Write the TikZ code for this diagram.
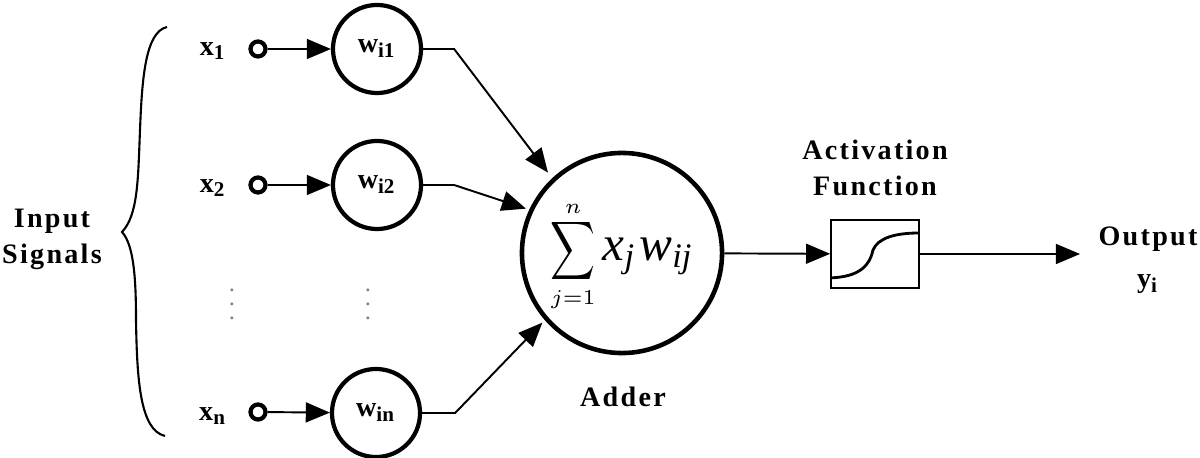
\documentclass[tikz,border=0pt]{standalone}
\usepackage{amssymb,amsfonts,amsmath}
\usepackage{fontspec}
\setmainfont{Liberation Serif}
\newfontfamily\spacedfont[LetterSpace=8]{Liberation Serif}
\usetikzlibrary{shapes,arrows,positioning}
\tikzset{
	weight/.style={circle,draw,line width=1.2pt,minimum size=0.88cm,inner sep=0pt,font=\fontsize{8}{9}\selectfont\bfseries},
	source/.style={circle,draw,line width=1.2pt,minimum size=0.15cm,inner sep=0pt},
	adder/.style={circle,draw,line width=1.3pt,minimum size=2cm,inner sep=0pt},
	activation/.style={rectangle,draw,line width=0.5pt,minimum width=0.88cm,minimum height=0.68cm,inner sep=0pt},
	label/.style={align=center,font=\fontsize{8}{10.2}\selectfont\bfseries\spacedfont},
	signal/.style={font=\fontsize{8}{9}\selectfont\bfseries},
	link/.style={-triangle 45,line width=0.55pt},
	dots/.style={font=\fontsize{7}{8}\selectfont,gray,inner sep=0pt}
}
\begin{document}
\begin{tikzpicture}[x=0.01cm,y=-0.01cm]
			\useasboundingbox (0,0) rectangle (1200,458);
			\node [signal] (xone) at (213,51) {x\textsubscript{1}};
			\node [signal] (xtwo) at (213,188) {x\textsubscript{2}};
			\node [signal] (xn) at (213,416) {x\textsubscript{n}};
			\node [source] (sone) at (258,49) {};
			\node [source] (stwo) at (258,185) {};
			\node [source] (sn) at (258,412) {};
			\node [weight] (wone) at (377,49) {w\textsubscript{i1}};
			\node [weight] (wtwo) at (377,185) {w\textsubscript{i2}};
			\node [weight] (wn) at (376,413) {w\textsubscript{in}};
			\node [adder] (sum) at (622,253) {};
			\node [inner sep=0pt] (formula) at (622,258) {\fontsize{13}{15}\selectfont$\displaystyle\mathop{\scalebox{0.68}[0.89]{$\displaystyle\sum$}}\limits_{\raisebox{2pt}{$\scriptscriptstyle j=1$}}^{\raisebox{-2.5pt}{$\scriptscriptstyle n$}}$\hspace{2pt}{\fontsize{14}{15}\selectfont\itshape x\textsubscript{j}\hspace{1pt}w\textsubscript{ij}}};
			\node [activation] (act) at (875,254) {};
			\node [label] (inputs) at (52,239) {Input\\Signals};
			\node [label] (actlabel) at (875,168) {Activation\\Function};
			\node [label] (adderlabel) at (623,397) {Adder};
			\node [label,font=\fontsize{8}{12}\selectfont\bfseries\spacedfont] (output) at (1148,260) {Output\\y\textsubscript{i}};
			\node [dots] (dotsx) at (232,294) {$\vdots$};
			\node [dots] (dotsw) at (368,294) {$\vdots$};
			\coordinate (bracetop) at (167,27);
			\coordinate (bracetip) at (122,232);
			\coordinate (bracebot) at (165,436);
			\coordinate (outend) at (1080,254);
			% inputs to weights
			\draw [link] (sone) -- (wone);
			\draw [link] (stwo) -- (wtwo);
			\draw [link] (sn) -- (wn);
			% weights to adder
			\draw [link,shorten >=2pt] (wone.east) -- ++(31,0) -- (sum.133);
			\draw [link,shorten >=1pt] (wtwo.east) -- ++(31,0) -- (sum.155);
			\draw [link,shorten >=1pt] (wn.east) -- ++(33,0) -- (sum.221);
			\draw [link] (sum) -- (act);
			\draw [link] (act) -- (outend);
			% brace
			\draw [line width=0.6pt] (bracetop) .. controls (145,32) and (142,80) .. (140,130) .. controls (138,180) and (138,215) .. (bracetip) .. controls (134,245) and (136,280) .. (136,320) .. controls (137,380) and (140,430) .. (bracebot);
			% transfer curve
			\draw [line width=0.8pt] (act.south west) ++(0,-11) .. controls (860,277) and (870,265) .. (873,250) .. controls (878,238) and (895,233) .. (919,233);
\end{tikzpicture}
\end{document}
